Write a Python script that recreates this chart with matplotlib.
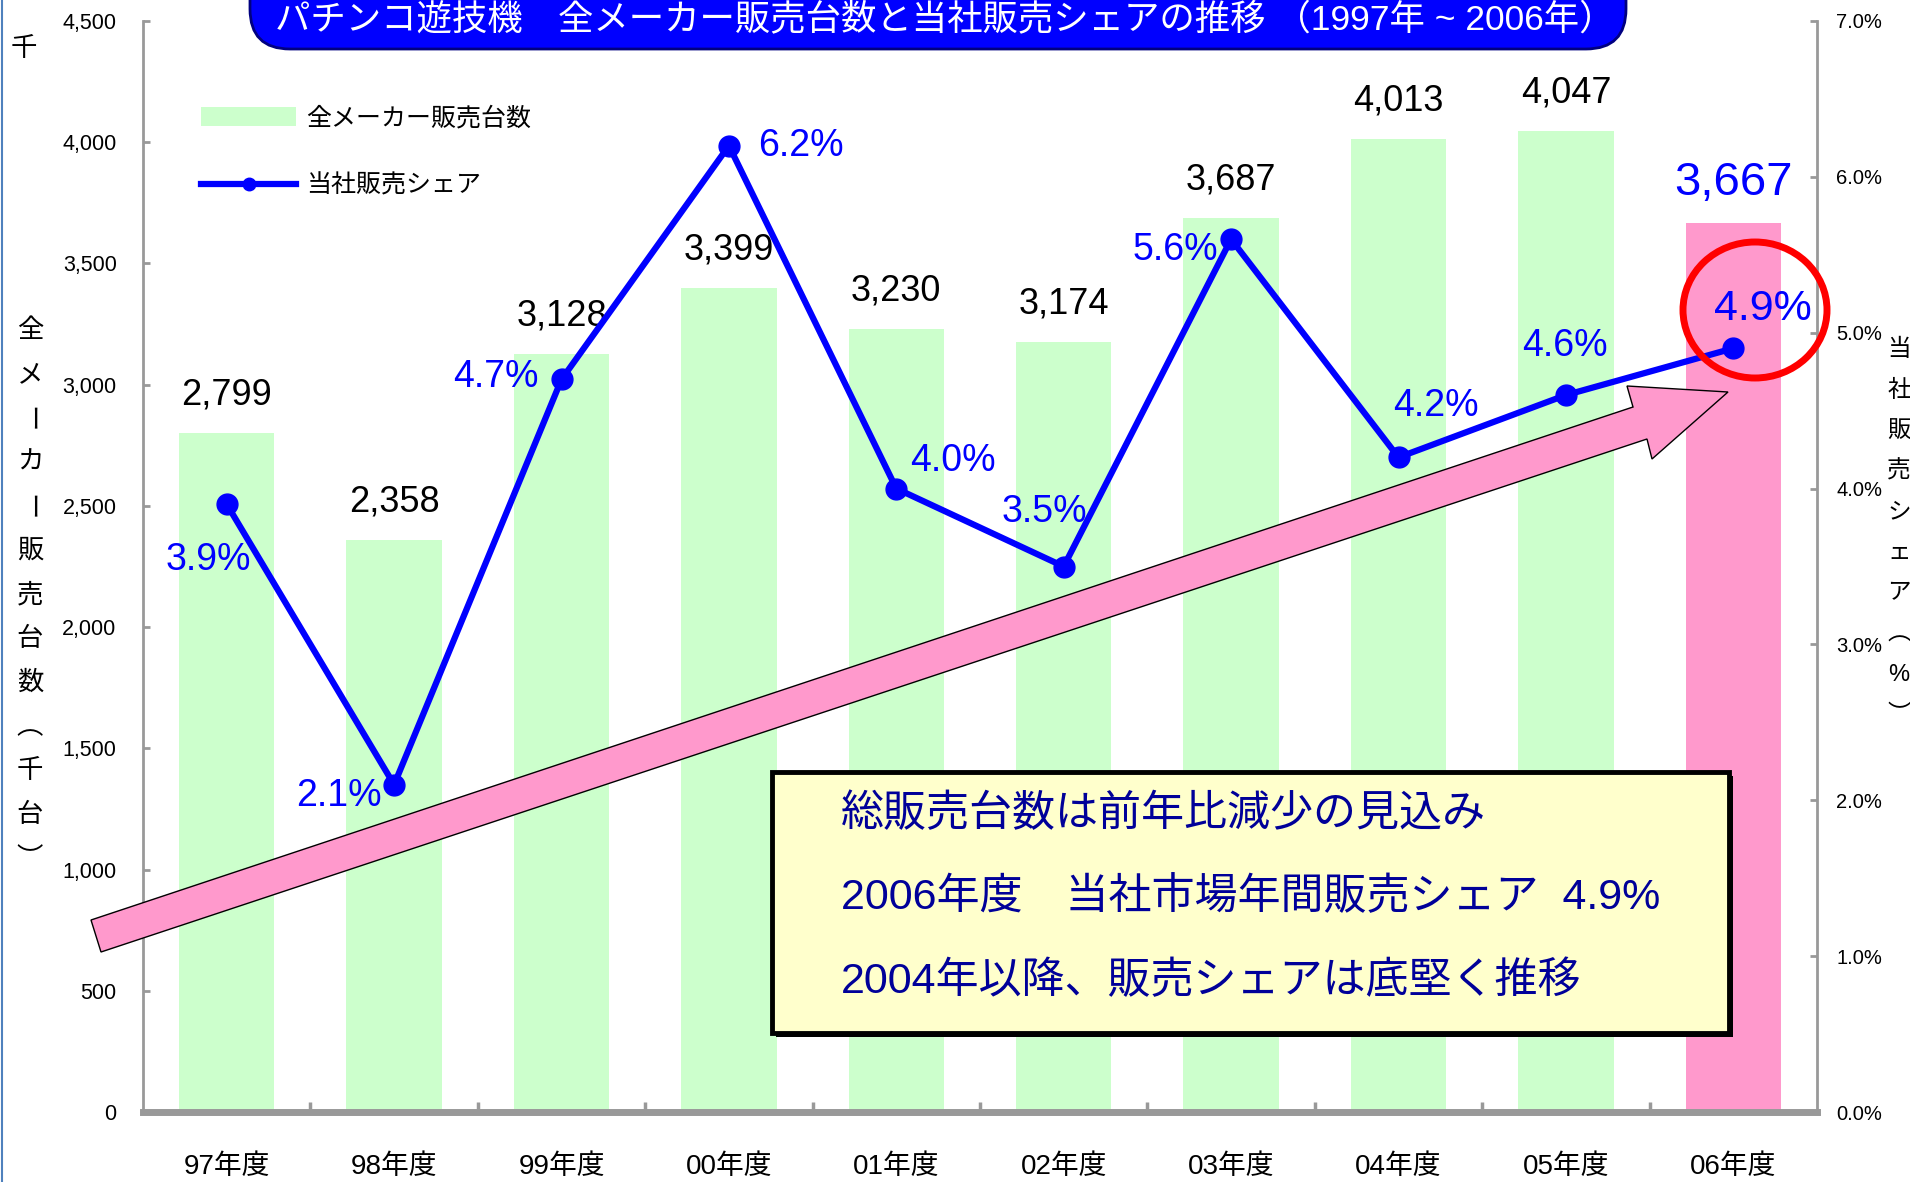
import numpy as np
import matplotlib
matplotlib.use('Agg')
import matplotlib.pyplot as plt
from matplotlib.patches import FancyBboxPatch, Polygon, Ellipse, Rectangle
from matplotlib.ticker import FuncFormatter
from matplotlib.lines import Line2D

plt.rcParams['font.family'] = ['Liberation Sans', 'Noto Sans CJK JP', 'DejaVu Sans']

# data
years = ['97年度', '98年度', '99年度', '00年度', '01年度',
         '02年度', '03年度', '04年度', '05年度', '06年度']
units = [2799, 2358, 3128, 3399, 3230, 3174, 3687, 4013, 4047, 3667]   # 千台
share = [3.9, 2.1, 4.7, 6.2, 4.0, 3.5, 5.6, 4.2, 4.6, 4.9]             # %

title = 'パチンコ遊技機　全メーカー販売台数と当社販売シェアの推移 （1997年 ~ 2006年）'
box_lines = ['総販売台数は前年比減少の見込み',
             '2006年度　当社市場年間販売シェア  4.9%',
             '2004年以降、販売シェアは底堅く推移']

# label offsets (pixels) for the share labels
share_off = [(-18, -56), (-55, -11), (-66, 2), (72, 0), (57, 28),
             (-19, 54), (-56, -11), (37, 51), (-1, 49), (30, 39)]

W, H = 1910, 1182
GRAY = '#999999'
BLUE = '#0000FF'

fig = plt.figure(figsize=(W / 100, H / 100), dpi=100)
ax = fig.add_axes([143 / W, 1 - 1112 / H, (1817 - 143) / W, (1112 - 21) / H])

x = np.arange(len(years))
colors = ['#CCFFCC'] * (len(years) - 1) + ['#FF99CC']
bars = ax.bar(x, units, width=0.57, color=colors, zorder=2, label='全メーカー販売台数')
ax.set_xlim(-0.5, len(years) - 0.5)
ax.set_ylim(0, 4500)
ax.set_yticks(np.arange(0, 4501, 500))
ax.yaxis.set_major_formatter(FuncFormatter(lambda v, p: f'{int(v):,}'))

for s in ['top', 'right']:
    ax.spines[s].set_visible(False)
ax.spines['left'].set_color(GRAY)
ax.spines['left'].set_linewidth(2)
ax.spines['bottom'].set_color(GRAY)
ax.spines['bottom'].set_linewidth(5)

ax.set_xticks(x)
ax.set_xticklabels(years, fontsize=20)
ax.tick_params(axis='x', which='major', length=0, pad=30)
ax.set_xticks(np.arange(0.5, len(years) - 1, 1), minor=True)
ax.tick_params(axis='x', which='minor', direction='in', length=7, width=2.5, color=GRAY)
ax.tick_params(axis='y', direction='in', length=5, width=2, color=GRAY, labelsize=15.5, pad=19)

for i, v in enumerate(units):
    if i == len(units) - 1:
        ax.annotate(f'{v:,}', (x[i], v), xytext=(0, 40), textcoords='offset pixels',
                    ha='center', va='center', fontsize=34, color=BLUE)
    else:
        ax.annotate(f'{v:,}', (x[i], v), xytext=(0, 38), textcoords='offset pixels',
                    ha='center', va='center', fontsize=26, color='black')

# pink trend arrow (figure pixels, top origin)
arrow_px = [(91, 920), (1633, 407), (1627, 386), (1728, 392),
            (1652, 459), (1647, 439), (101, 952)]
arrow = Polygon([(px / 100, (H - py) / 100) for px, py in arrow_px], closed=True,
                transform=fig.dpi_scale_trans, fc='#FF99CC', ec='black', lw=1,
                clip_on=False, zorder=3)
ax.add_artist(arrow)

ax2 = ax.twinx()
ax2.set_ylim(0, 7)
ax2.set_yticks(np.arange(0, 8, 1))
ax2.yaxis.set_major_formatter(FuncFormatter(lambda v, p: f'{v:.1f}%'))
for s in ['top', 'left', 'bottom']:
    ax2.spines[s].set_visible(False)
ax2.spines['right'].set_color(GRAY)
ax2.spines['right'].set_linewidth(2)
ax2.tick_params(axis='y', direction='in', length=5, width=2, color=GRAY, labelsize=14.5, pad=14)

line, = ax2.plot(x, share, color=BLUE, lw=4.5, marker='o', ms=15, zorder=5,
                 label='当社販売シェア')
for i, v in enumerate(share):
    fs = 31 if i == len(share) - 1 else 27
    ax2.annotate(f'{v:.1f}%', (x[i], v), xytext=share_off[i], textcoords='offset pixels',
                 ha='center', va='center', fontsize=fs, color=BLUE, zorder=6)

circle = Ellipse((17.55, (H - 310) / 100), 1.44, 1.36, transform=fig.dpi_scale_trans,
                 fill=False, ec='#FF0000', lw=5, clip_on=False, zorder=7)
ax2.add_artist(circle)

ax.legend(handles=[bars, line], loc='upper left', bbox_to_anchor=(201 / W, 1 - 106 / H),
          bbox_transform=fig.transFigure, frameon=False, fontsize=18,
          handlelength=3.8, handleheight=0.8, handletextpad=0.4, labelspacing=1.75,
          borderpad=0, borderaxespad=0, markerscale=0.6)

# title banner
fig.add_artist(FancyBboxPatch((2.50, (H - 49) / 100), 13.76, 1.0,
                              boxstyle='round,pad=0,rounding_size=0.4',
                              transform=fig.dpi_scale_trans, fc=BLUE, ec='#000080', lw=2))
fig.text(945 / W, 1 - 20 / H, title, ha='center', va='center', fontsize=25.5, color='white')

# comment box
fig.add_artist(Rectangle((7.76, (H - 1037) / 100), 9.57, 2.61,
                         transform=fig.dpi_scale_trans, fc='black', ec='black', lw=0))
fig.add_artist(Rectangle((7.72, (H - 1033) / 100), 9.57, 2.61,
                         transform=fig.dpi_scale_trans, fc='#FFFFCC', ec='black', lw=3.5))
for ty, s in zip([815, 898, 982], box_lines):
    fig.text(841 / W, 1 - ty / H, s, ha='left', va='center', fontsize=31, color='#000099')

# vertical axis titles
left_chars = ['全', 'メ', 'ー', 'カ', 'ー', '販', '売', '台', '数', '︵', '千', '台', '︶']
for i, c in enumerate(left_chars):
    rot = -90 if c == 'ー' else 0
    fig.text(30 / W, 1 - (331 + i * 44) / H, c, ha='center', va='center',
             fontsize=19, rotation=rot)
right_chars = ['当', '社', '販', '売', 'シ', 'ェ', 'ア', '︵', '%', '︶']
for i, c in enumerate(right_chars):
    fig.text(1899 / W, 1 - (350 + i * 40.6) / H, c, ha='center', va='center',
             fontsize=17)
fig.text(24 / W, 1 - 49 / H, '千', ha='center', va='center', fontsize=19)

fig.add_artist(Line2D([0.001, 0.001], [0, 1], color='#4F81BD', lw=1.5))

fig.savefig('out.png', dpi=100)
